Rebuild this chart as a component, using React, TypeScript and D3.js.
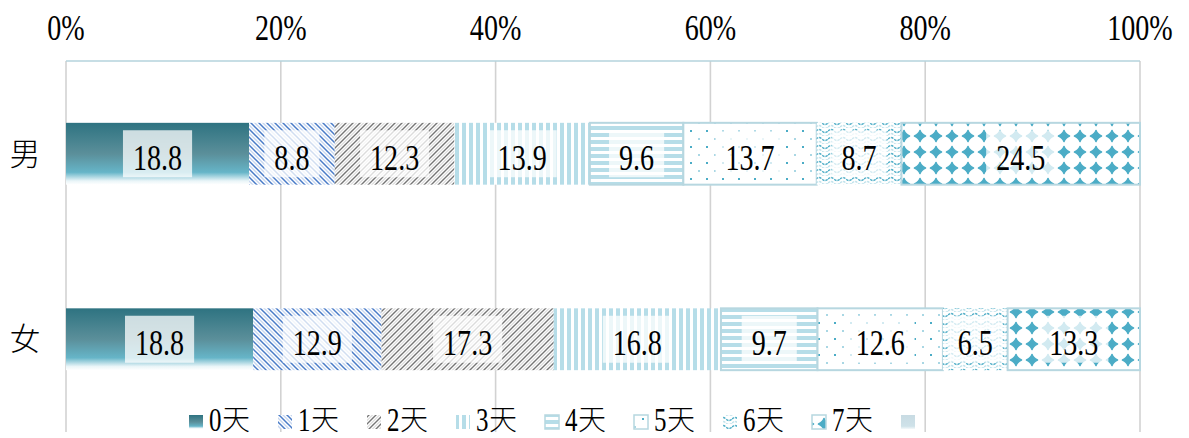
import React from 'react';
import * as d3 from 'd3';

// 資料
const categories = ['男', '女'];
const seriesNames = ['0天', '1天', '2天', '3天', '4天', '5天', '6天', '7天'];
const maleValues = [18.8, 8.8, 12.3, 13.9, 9.6, 13.7, 8.7, 24.5];
const femaleValues = [18.8, 12.9, 17.3, 16.8, 9.7, 12.6, 6.5, 13.3];
const tickValues = [0, 0.2, 0.4, 0.6, 0.8, 1];
const tickLabels = ['0%', '20%', '40%', '60%', '80%', '100%'];

const W = 1189;
const H = 438;
const plot = { left: 66, right: 1140, top: 61, bottom: 432 };

const FONT = '"Liberation Serif", "Noto Sans CJK TC", serif';
const CJK = '"Noto Sans CJK TC", "Liberation Serif", serif';
const SX = 0.78; // 字體橫向壓縮

const BLUE = '#4bacc6';
const LIGHT = '#b6dde8';
const BORDER = '#b7d7e0';

type Row = { cat: string } & Record<string, number | string>;

const rows: Row[] = categories.map((cat, i) => {
  const vals = i === 0 ? maleValues : femaleValues;
  const r: Row = { cat } as Row;
  seriesNames.forEach((k, j) => (r[k] = vals[j]));
  return r;
});

const fills = seriesNames.map((_, i) => (i === 0 ? 'url(#grad0)' : `url(#pat${i})`));
const bordered = [false, false, false, false, true, true, false, true];

function textWidth(s: string, size: number) {
  let w = 0;
  for (const c of s) w += c === '.' ? 0.25 : 0.5;
  return w * size * SX;
}

function SText(props: { x: number; y: number; size: number; anchor?: string; children: React.ReactNode; sy?: number }) {
  const { x, y, size, anchor = 'middle', children, sy = 1 } = props;
  return (
    <text
      transform={`translate(${x},${y}) scale(${SX},${sy})`}
      textAnchor={anchor}
      fontSize={size}
      fontFamily={FONT}
      fill="#000"
    >
      {children}
    </text>
  );
}

export default function App() {
  const x = d3.scaleLinear().domain([0, 1]).range([plot.left, plot.right]);
  const y = d3.scaleBand<string>().domain(categories).range([plot.top, plot.bottom]).padding(0);
  const bw = y.bandwidth();
  const barH = bw / 3;

  const stacked = d3
    .stack<Row>()
    .keys(seriesNames)
    .value((d, k) => d[k] as number)
    .offset(d3.stackOffsetExpand)(rows);

  const legendX = d3.scaleLinear().domain([0, 1]).range([189, 278]);

  return (
    <svg width={W} height={H} style={{ position: 'absolute', left: 0, top: 0, background: '#fff' }}>
      <defs>
        <linearGradient id="grad0" x1="0" y1="0" x2="0" y2="1">
          <stop offset="0" stopColor="#2e7381" />
          <stop offset="0.5" stopColor="#5b8f9a" />
          <stop offset="0.8" stopColor="#66b5c8" />
          <stop offset="0.94" stopColor="#eaf5f8" />
          <stop offset="1" stopColor="#ffffff" />
        </linearGradient>
        <linearGradient id="gradBlank" x1="0" y1="0" x2="0" y2="1">
          <stop offset="0" stopColor="#c8dbe3" />
          <stop offset="0.8" stopColor="#cfe2e9" />
          <stop offset="1" stopColor="#f4f9fb" />
        </linearGradient>
        {/* 1天 */}
        <pattern id="pat1" patternUnits="userSpaceOnUse" width="8" height="8">
          <rect width="8" height="8" fill="#fff" />
          <path d="M-2,2 L6,10 M2,-2 L10,6" stroke="#c6d6ef" strokeWidth="1.3" />
          <path d="M-2,-2 L10,10 M-2,6 L2,10 M6,-2 L10,2" stroke="#4a7cc8" strokeWidth="1.5" />
        </pattern>
        {/* 2天 */}
        <pattern id="pat2" patternUnits="userSpaceOnUse" width="7" height="7">
          <rect width="7" height="7" fill="#fff" />
          <path d="M-1,4.5 L4.5,-1 M2.5,8 L8,2.5" stroke="#dadada" strokeWidth="1.1" />
          <path d="M-1,8 L8,-1 M-1,1 L1,-1 M6,8 L8,6" stroke="#767676" strokeWidth="1.4" />
        </pattern>
        {/* 3天 */}
        <pattern id="pat3" patternUnits="userSpaceOnUse" width="7" height="7">
          <rect width="7" height="7" fill="#fff" />
          <rect width="4" height="7" fill={LIGHT} />
        </pattern>
        {/* 4天 */}
        <pattern id="pat4" patternUnits="userSpaceOnUse" width="7" height="7">
          <rect width="7" height="7" fill="#fff" />
          <rect width="7" height="4" fill={LIGHT} />
        </pattern>
        {/* 5天 */}
        <pattern id="pat5" patternUnits="userSpaceOnUse" width="16" height="16">
          <rect width="16" height="16" fill="#fff" />
          <rect x="2" y="2" width="2" height="2" fill={BLUE} />
          <rect x="10" y="10" width="2" height="2" fill="#a9d7e4" />
        </pattern>
        {/* 6天 */}
        <pattern id="pat6" patternUnits="userSpaceOnUse" width="12" height="8">
          <rect width="12" height="8" fill="#fff" />
          <path d="M0,3 Q3,0 6,3 T12,3" fill="none" stroke={BLUE} strokeWidth="1.4" strokeDasharray="2.5 1" />
          <path d="M0,7 Q3,4 6,7 T12,7" fill="none" stroke="#bfe2eb" strokeWidth="1.4" strokeDasharray="2.5 1" />
        </pattern>
        {/* 7天 */}
        <pattern id="pat7" patternUnits="userSpaceOnUse" width="16" height="16">
          <rect width="16" height="16" fill="#fff" />
          <path d="M8,2.5 Q9,6 13.5,8 Q9,10 8,13.5 Q7,10 2.5,8 Q7,6 8,2.5 Z" fill={BLUE} stroke={BLUE} strokeWidth="1.6" strokeLinejoin="round" />
        </pattern>
      </defs>

      {/* 格線 */}
      {tickValues.map((t, i) => (
        <line
          key={`g${i}`}
          x1={x(t)}
          x2={x(t)}
          y1={plot.top}
          y2={plot.bottom}
          stroke="#d2d2d2"
          strokeWidth={1.6}
        />
      ))}
      <line x1={plot.left} x2={plot.right} y1={plot.top} y2={plot.top} stroke="#b5d3dc" strokeWidth={1.6} />

      {/* 刻度標籤 */}
      {tickValues.map((t, i) => (
        <SText key={`t${i}`} x={x(t)} y={40} size={36}>
          {tickLabels[i]}
        </SText>
      ))}

      {/* 類別標籤 */}
      {categories.map((c) => (
        <text
          key={c}
          x={25}
          y={(y(c) as number) + bw / 2 + 11}
          textAnchor="middle"
          fontSize={31}
          fontFamily={CJK}
          fontWeight={300}
          fill="#000"
        >
          {c}
        </text>
      ))}

      {/* 長條 */}
      {stacked.map((s, si) => (
        <g key={s.key}>
          {s.map((d, ci) => {
            const cy = (y(categories[ci]) as number) + barH;
            return (
              <rect
                key={ci}
                x={x(d[0])}
                y={cy}
                width={x(d[1]) - x(d[0])}
                height={barH}
                fill={fills[si]}
                stroke={bordered[si] ? BORDER : 'none'}
                strokeWidth={bordered[si] ? 2 : 0}
              />
            );
          })}
        </g>
      ))}

      {/* 數值標籤 */}
      {stacked.map((s, si) => (
        <g key={`l${s.key}`}>
          {s.map((d, ci) => {
            const v = (ci === 0 ? maleValues : femaleValues)[si];
            const label = v.toFixed(1);
            const cx = (x(d[0]) + x(d[1])) / 2;
            const cy = (y(categories[ci]) as number) + bw / 2;
            const tw = textWidth(label, 36);
            return (
              <g key={ci}>
                <rect
                  x={cx - tw / 2 - 10}
                  y={cy - 23.5}
                  width={tw + 20}
                  height={47}
                  fill="#fff"
                  fillOpacity={0.75}
                />
                <SText x={cx} y={cy + 16} size={36}>
                  {label}
                </SText>
              </g>
            );
          })}
        </g>
      ))}

      {/* 圖例 */}
      {[...seriesNames, ''].map((name, i) => {
        const lx = legendX(i);
        const fill = i < seriesNames.length ? fills[i] : 'url(#gradBlank)';
        const b = i < seriesNames.length && bordered[i];
        return (
          <g key={`lg${i}`}>
            <rect
              x={lx}
              y={415}
              width={14}
              height={14}
              fill={fill}
              stroke={b ? BORDER : 'none'}
              strokeWidth={b ? 1.5 : 0}
            />
            {name && (
              <>
                <SText x={lx + 20} y={431} size={32} sy={1.08} anchor="start">
                  {name.slice(0, 1)}
                </SText>
                <text x={lx + 33} y={430} fontSize={28} fontFamily={CJK} fontWeight={300} fill="#000">
                  {name.slice(1)}
                </text>
              </>
            )}
          </g>
        );
      })}
    </svg>
  );
}
